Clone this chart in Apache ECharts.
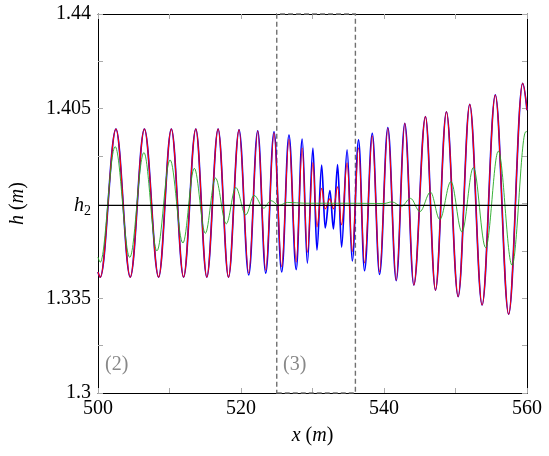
<!DOCTYPE html>
<html>
<head>
<meta charset="utf-8">
<script src="https://cdn.jsdelivr.net/npm/echarts@6/dist/echarts.min.js"></script>
<style>
  html, body { margin: 0; padding: 0; background: #fff; }
  #chart { width: 549px; height: 456px; }
</style>
</head>
<body>
<div id="chart"></div>
<script>
// wave extrema (red and blue share the x positions)
const waveX = [500, 500.32, 502.51, 504.51, 506.49, 508.48, 510.26, 511.97, 513.68, 515.22,
  516.80, 518.25, 519.73, 521.08, 522.34, 523.46, 524.62, 525.69, 526.71, 527.72,
  528.56, 529.28, 530.06, 530.62, 531.28, 531.77, 532.44, 532.93, 533.51, 534.07,
  534.84, 535.56, 536.44, 537.28, 538.36, 539.38, 540.54, 541.71, 542.91, 544.17,
  545.80, 547.20, 548.73, 550.37, 551.99, 553.72, 555.57, 557.43, 559.39, 560]
const redH = [1.3447, 1.3428, 1.3975, 1.3428, 1.3975, 1.3428, 1.3975, 1.3428, 1.3975, 1.3428,
  1.3975, 1.3428, 1.3972, 1.3443, 1.3968, 1.3454, 1.3960, 1.3467, 1.3937, 1.3484,
  1.3905, 1.3519, 1.3851, 1.3613, 1.3756, 1.3680, 1.3717, 1.3680, 1.3762, 1.3621,
  1.3850, 1.3522, 1.3906, 1.3480, 1.3949, 1.3447, 1.3978, 1.3417, 1.3996, 1.3399,
  1.4021, 1.3380, 1.4039, 1.3356, 1.4066, 1.3325, 1.4101, 1.3291, 1.4144, 1.4045]
const blueH = [1.3447, 1.3428, 1.3975, 1.3428, 1.3975, 1.3428, 1.3975, 1.3428, 1.3975, 1.3428,
  1.3975, 1.3428, 1.3972, 1.3436, 1.3968, 1.3443, 1.3965, 1.3447, 1.3953, 1.3456,
  1.3938, 1.3480, 1.3905, 1.3528, 1.3842, 1.3610, 1.3748, 1.3606, 1.3844, 1.3539,
  1.3898, 1.3488, 1.3935, 1.3452, 1.3959, 1.3438, 1.3980, 1.3415, 1.3996, 1.3399,
  1.4021, 1.3380, 1.4039, 1.3356, 1.4066, 1.3325, 1.4101, 1.3291, 1.4144, 1.4045]
const greenX = [500, 500.31, 502.40, 504.44, 506.42, 508.24, 510.08, 511.87, 513.47, 515.01,
  516.43, 517.94, 519.27, 520.67, 521.82, 523.18, 524.16, 525.32, 526.49, 529,
  535, 540, 541.12, 542.45, 543.70, 545.03, 546.50, 547.80, 549.36, 550.90,
  552.50, 554.22, 555.99, 557.91, 559.83, 560]
const greenH = [1.3502, 1.3483, 1.3910, 1.3501, 1.3888, 1.3525, 1.3861, 1.3554, 1.3830, 1.3590,
  1.3794, 1.3625, 1.3759, 1.3658, 1.3730, 1.3683, 1.3711, 1.3693, 1.3704, 1.3701,
  1.3701, 1.3700, 1.3706, 1.3690, 1.3719, 1.3670, 1.3742, 1.3641, 1.3781, 1.3595,
  1.3833, 1.3537, 1.3893, 1.3472, 1.3965, 1.3966]

const h2 = 1.3693
const xTickLabels = [500, 520, 540, 560]
const yTickLabels = [1.3, 1.335, h2, 1.405, 1.44]
const yTicks = [1.3, 1.3175, 1.335, h2, 1.3875, 1.405, 1.4225, 1.44]
const zoneX = [525, 536]

const font = 'Liberation Serif'
const zip = (xs, ys) => xs.map((x, i) => [x, ys[i]])
// bezier arm of ~0.36 of a half wave gives a sine-like shape between extrema
const smooth = 0.36

const chart = echarts.init(document.getElementById('chart'))

const tickStyle = { show: true, inside: true, length: 5, lineStyle: { color: '#aaa', width: 1 } }

chart.setOption({
  animation: false,
  grid: { left: 97, right: 22, top: 14, bottom: 63, containLabel: false },
  xAxis: [
    {
      type: 'value', min: 500, max: 560, interval: 10,
      axisLine: { show: true, onZero: false, lineStyle: { color: '#000', width: 1 } },
      axisTick: tickStyle,
      splitLine: { show: false },
      axisLabel: {
        margin: 6, fontFamily: font, fontSize: 20, color: '#000',
        formatter: v => xTickLabels.includes(v) ? String(v) : ''
      },
      name: '{i|x} ({i|m})', nameLocation: 'middle', nameGap: 33,
      nameTextStyle: {
        fontFamily: font, fontSize: 20, color: '#000',
        rich: { i: { fontFamily: font, fontSize: 20, fontStyle: 'italic' } }
      }
    },
    {
      type: 'value', position: 'top', min: 500, max: 560, interval: 10,
      axisLine: { show: true, onZero: false, lineStyle: { color: '#000', width: 1 } },
      axisTick: tickStyle, axisLabel: { show: false }, splitLine: { show: false }
    }
  ],
  yAxis: [
    {
      type: 'value', min: 1.3, max: 1.44,
      axisLine: { show: true, onZero: false, lineStyle: { color: '#000', width: 1 } },
      axisTick: Object.assign({ customValues: yTicks }, tickStyle),
      splitLine: { show: false },
      axisLabel: {
        customValues: yTickLabels,
        margin: 7, fontFamily: font, fontSize: 20, color: '#000',
        formatter: v => Math.abs(v - h2) < 1e-6 ? '{hi|h}{sub|2}' : String(v),
        rich: {
          hi: { fontFamily: font, fontSize: 20, fontStyle: 'italic', lineHeight: 26, verticalAlign: 'middle' },
          sub: { fontFamily: font, fontSize: 14, lineHeight: 26, verticalAlign: 'bottom' }
        }
      },
      name: '{i|h} ({i|m})', nameLocation: 'middle', nameGap: 70, nameRotate: 90,
      nameTextStyle: {
        fontFamily: font, fontSize: 20, color: '#000',
        rich: { i: { fontFamily: font, fontSize: 20, fontStyle: 'italic' } }
      }
    },
    {
      type: 'value', position: 'right', min: 1.3, max: 1.44, interval: 0.0175,
      axisLine: { show: true, onZero: false, lineStyle: { color: '#000', width: 1 } },
      axisTick: tickStyle, axisLabel: { show: false }, splitLine: { show: false }
    }
  ],
  graphic: [
    { type: 'text', left: 105, top: 355, style: { text: '(2)', fill: '#888', font: '20px "Liberation Serif"' } },
    { type: 'text', left: 283, top: 355, style: { text: '(3)', fill: '#888', font: '20px "Liberation Serif"' } }
  ],
  series: [
    {
      name: 'blue', type: 'line', data: zip(waveX, blueH),
      showSymbol: false, smooth: smooth, smoothMonotone: 'x',
      lineStyle: { color: '#0000ff', width: 1.7 }, z: 2
    },
    {
      name: 'red', type: 'line', data: zip(waveX, redH),
      showSymbol: false, smooth: smooth, smoothMonotone: 'x',
      lineStyle: { color: '#ff0000', width: 1.1 }, z: 3
    },
    {
      name: 'green', type: 'line', data: zip(greenX, greenH),
      showSymbol: false, smooth: smooth, smoothMonotone: 'x',
      lineStyle: { color: '#22a822', width: 0.9 }, z: 4
    },
    {
      name: 'h2', type: 'line', data: [[500, h2], [560, h2]],
      showSymbol: false, lineStyle: { color: '#000', width: 1.4 }, z: 5,
      markArea: {
        silent: true,
        itemStyle: { color: 'rgba(0,0,0,0)', borderColor: '#707070', borderWidth: 1.4, borderType: [5, 3] },
        data: [[{ xAxis: zoneX[0], yAxis: 1.3 }, { xAxis: zoneX[1], yAxis: 1.44 }]]
      }
    }
  ]
})
</script>
</body>
</html>
